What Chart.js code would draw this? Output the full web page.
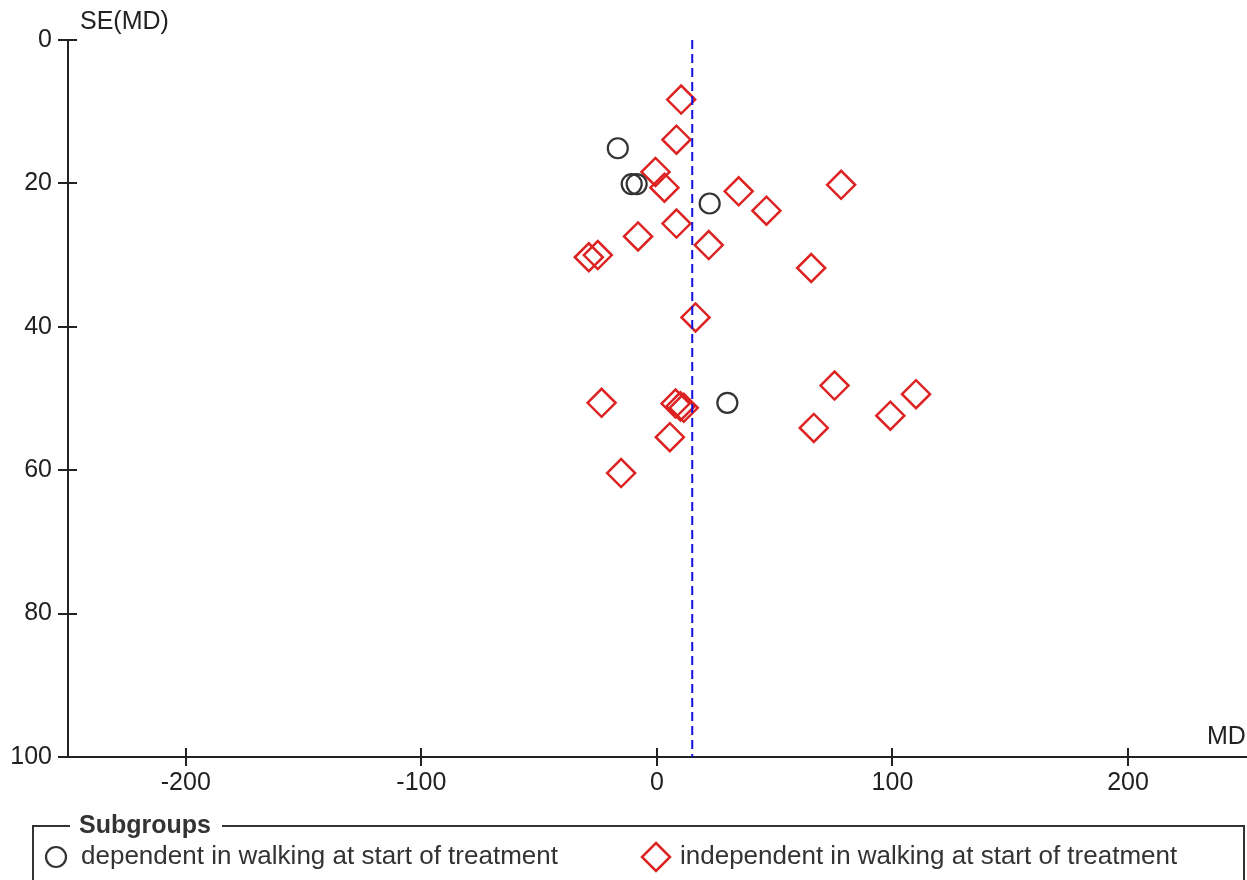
<!DOCTYPE html>
<html>
<head>
<meta charset="utf-8">
<title>Funnel plot</title>
<script src="https://cdn.jsdelivr.net/npm/chart.js@4.4.1/dist/chart.umd.min.js"></script>
<style>
  body { margin: 0; background: #fff; }
  #wrap { width: 1247px; height: 880px; }
</style>
</head>
<body>
<div id="wrap"><canvas id="funnel" width="1247" height="880"></canvas></div>
<script>
// study estimates: mean difference (MD) and its standard error
const dependentMD = [-16.6, -10.7, -8.6, 22.4, 29.9];
const dependentSE = [15.1, 20.1, 20.1, 22.8, 50.6];

const independentMD = [10.3, 8.3, -0.6, 3.2, 34.7, 78.2, 46.5, 8.3, -8.0, 22.0, -28.9, -25.1,
  65.5, 16.4, -23.5, 7.9, 10.0, 11.4, 5.5, -15.2, 75.4, 66.6, 99.1, 110.0];
const independentSE = [8.3, 13.9, 18.4, 20.6, 21.1, 20.2, 23.8, 25.6, 27.4, 28.6, 30.3, 30.0,
  31.8, 38.7, 50.6, 50.7, 51.1, 51.3, 55.4, 60.4, 48.2, 54.1, 52.4, 49.4];

const pooledMD = 15;
const seRange = [0, 100];

const xTicks = [-200, -100, 0, 100, 200];
const yTicks = [0, 20, 40, 60, 80, 100];

const groupLabels = ['dependent in walking at start of treatment', 'independent in walking at start of treatment'];
const legendTitle = 'Subgroups';

const FONT = '"Liberation Sans", Arial, sans-serif';
const AXIS = '#222';

function toPoints(xs, ys) {
  return xs.map((x, i) => ({ x: x, y: ys[i] }));
}

// ticks that cross the axis lines, axis titles and the subgroup legend box
const decorations = {
  id: 'decorations',
  afterDraw(chart) {
    const ctx = chart.ctx;
    const xs = chart.scales.x, ys = chart.scales.y;
    const area = chart.chartArea;
    ctx.save();
    ctx.strokeStyle = AXIS;
    ctx.lineWidth = 2;
    ctx.beginPath();
    xs.ticks.forEach(t => {
      const px = Math.round(xs.getPixelForValue(t.value));
      ctx.moveTo(px, area.bottom - 9);
      ctx.lineTo(px, area.bottom + 9);
    });
    ys.ticks.forEach(t => {
      const py = Math.round(ys.getPixelForValue(t.value));
      ctx.moveTo(area.left - 10, py);
      ctx.lineTo(area.left + 9, py);
    });
    ctx.stroke();

    ctx.fillStyle = AXIS;
    ctx.font = '25px ' + FONT;
    ctx.textBaseline = 'middle';
    ctx.textAlign = 'left';
    ctx.fillText('SE(MD)', 80, 22);
    ctx.fillText('MD', 1207, 737);

    // legend frame with the title sitting on the top edge
    const boxL = 33, boxT = 826, boxR = 1244;
    ctx.lineWidth = 2;
    ctx.strokeStyle = '#333';
    ctx.beginPath();
    ctx.moveTo(boxL, 900);
    ctx.lineTo(boxL, boxT);
    ctx.lineTo(70, boxT);
    ctx.moveTo(222, boxT);
    ctx.lineTo(boxR, boxT);
    ctx.lineTo(boxR, 900);
    ctx.stroke();
    ctx.font = 'bold 25px ' + FONT;
    ctx.fillStyle = '#333';
    ctx.fillText(legendTitle, 79, boxT);

    const entryX = [56, 656];
    chart.data.datasets.filter(d => d.type === 'scatter').forEach((ds, i) => {
      const cx = entryX[i], cy = 857;
      const r = ds.pointRadius;
      ctx.strokeStyle = ds.borderColor;
      ctx.lineWidth = ds.borderWidth;
      ctx.beginPath();
      if (ds.pointStyle === 'circle') {
        ctx.arc(cx, cy, r, 0, Math.PI * 2);
      } else {
        ctx.moveTo(cx, cy - r);
        ctx.lineTo(cx + r, cy);
        ctx.lineTo(cx, cy + r);
        ctx.lineTo(cx - r, cy);
        ctx.closePath();
      }
      ctx.stroke();
      ctx.font = '26px ' + FONT;
      ctx.fillStyle = '#333';
      ctx.fillText(ds.label, cx + (ds.pointStyle === 'circle' ? 25 : 24), cy);
    });
    ctx.restore();
  }
};

new Chart(document.getElementById('funnel'), {
  data: {
    datasets: [
      {
        type: 'line',
        label: 'pooled MD',
        data: seRange.map(se => ({ x: pooledMD, y: se })),
        borderColor: '#1111dd',
        borderWidth: 2,
        borderDash: [9, 5],
        pointRadius: 0,
        order: 0
      },
      {
        type: 'scatter',
        label: groupLabels[0],
        data: toPoints(dependentMD, dependentSE),
        pointStyle: 'circle',
        pointRadius: 10,
        borderColor: '#333333',
        backgroundColor: 'rgba(0,0,0,0)',
        borderWidth: 2.2,
        order: 1
      },
      {
        type: 'scatter',
        label: groupLabels[1],
        data: toPoints(independentMD, independentSE),
        pointStyle: 'rectRot',
        pointRadius: 14,
        borderColor: '#dd2222',
        backgroundColor: 'rgba(0,0,0,0)',
        borderWidth: 2.5,
        order: 1
      }
    ]
  },
  options: {
    responsive: false,
    animation: false,
    layout: { autoPadding: false, padding: { top: 40, left: 0, right: 0, bottom: 0 } },
    plugins: {
      legend: { display: false },
      tooltip: { enabled: false }
    },
    scales: {
      x: {
        type: 'linear',
        min: -250,
        max: 250.5,
        afterBuildTicks: s => { s.ticks = xTicks.map(v => ({ value: v })); },
        afterFit: s => { s.height = 123; },
        grid: { display: false, drawTicks: false },
        border: { color: AXIS, width: 2 },
        ticks: { padding: 11, color: AXIS, font: { family: FONT, size: 25 } }
      },
      y: {
        type: 'linear',
        reverse: true,
        min: seRange[0],
        max: seRange[1],
        afterBuildTicks: s => { s.ticks = yTicks.map(v => ({ value: v })); },
        afterFit: s => { s.width = 68; },
        grid: { display: false, drawTicks: false },
        border: { color: AXIS, width: 2 },
        ticks: { padding: 16, color: AXIS, font: { family: FONT, size: 25 } }
      }
    }
  },
  plugins: [decorations]
});
</script>
</body>
</html>
